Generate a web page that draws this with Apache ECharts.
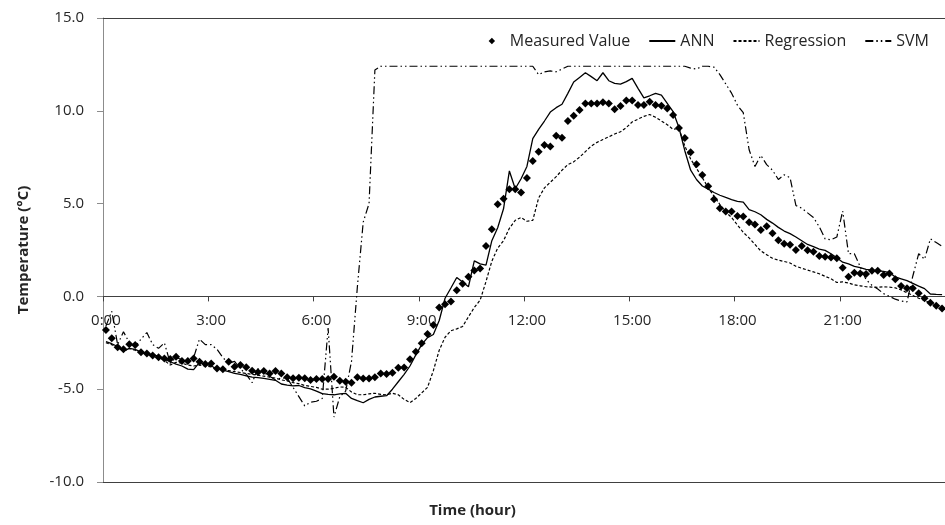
<!DOCTYPE html>
<html>
<head>
<meta charset="utf-8">
<script src="https://cdn.jsdelivr.net/npm/echarts@6/dist/echarts.min.js"></script>
<style>
html,body{margin:0;padding:0;background:#fff;}
#chart{width:945px;height:525px;}
</style>
</head>
<body>
<div id="chart"></div>
<script>
// 10-minute time categories 0:00 .. 23:50
const timeLabels = [];
for (let h = 0; h < 24; h++) {
  for (let m = 0; m < 60; m += 10) {
    timeLabels.push(h + ':' + (m < 10 ? '0' + m : m));
  }
}
const yTicks = [-10, -5, 0, 5, 10, 15];

const measured = [
  -1.81,-2.26,-2.74,-2.85,-2.58,-2.62,-3.01,-3.07,-3.19,-3.28,
  -3.34,-3.37,-3.25,-3.48,-3.48,-3.34,-3.52,-3.64,-3.61,-3.88,
  -3.93,-3.52,-3.79,-3.70,-3.82,-4.00,-4.09,-4.02,-4.15,-4.02,
  -4.15,-4.36,-4.41,-4.38,-4.41,-4.50,-4.45,-4.45,-4.45,-4.33,
  -4.54,-4.60,-4.65,-4.36,-4.43,-4.43,-4.36,-4.15,-4.18,-4.11,
  -3.84,-3.83,-3.39,-2.98,-2.53,-2.03,-1.54,-0.60,-0.42,-0.28,
  0.33,0.68,1.06,1.40,1.50,2.72,3.62,4.96,5.26,5.77,
  5.77,5.60,6.38,7.30,7.80,8.16,8.07,8.66,8.55,9.45,
  9.74,10.04,10.40,10.40,10.40,10.46,10.40,10.08,10.26,10.55,
  10.56,10.31,10.31,10.49,10.31,10.27,10.13,9.77,9.08,8.54,
  7.76,7.12,6.54,5.93,5.23,4.75,4.57,4.57,4.33,4.30,
  3.99,3.88,3.58,3.78,3.40,3.02,2.84,2.78,2.50,2.72,
  2.48,2.41,2.18,2.14,2.09,2.05,1.55,1.06,1.28,1.24,
  1.21,1.38,1.38,1.15,1.24,0.92,0.56,0.44,0.44,0.17,
  -0.10,-0.34,-0.50,-0.65
];

const ann = [
  -2.44,-2.55,-2.70,-2.95,-2.80,-2.85,-3.00,-3.08,-3.15,-3.22,
  -3.40,-3.52,-3.65,-3.75,-3.92,-3.95,-3.55,-3.65,-3.75,-3.90,
  -3.97,-4.05,-4.15,-4.20,-4.28,-4.35,-4.38,-4.42,-4.47,-4.52,
  -4.72,-4.78,-4.82,-4.80,-4.92,-4.98,-5.10,-5.24,-5.28,-5.30,
  -5.25,-5.22,-5.50,-5.62,-5.73,-5.55,-5.42,-5.38,-5.35,-5.00,
  -4.60,-4.20,-3.75,-3.15,-2.60,-2.22,-2.05,-1.30,-0.10,0.45,
  1.02,0.78,0.52,1.91,1.75,1.69,3.00,3.70,4.72,6.76,
  5.80,6.34,7.00,8.50,9.00,9.45,9.93,10.17,10.35,10.94,
  11.55,11.80,12.05,11.84,11.62,12.05,11.62,11.48,11.44,11.57,
  11.75,11.21,10.70,10.81,10.94,10.85,10.40,9.95,9.10,7.85,
  6.80,6.30,5.95,5.78,5.60,5.45,5.33,5.22,5.12,5.08,
  4.68,4.56,4.40,4.15,3.95,3.72,3.52,3.38,3.20,3.00,
  2.80,2.68,2.55,2.48,2.30,2.08,1.84,1.75,1.62,1.55,
  1.46,1.42,1.38,1.35,1.28,1.05,0.95,0.85,0.70,0.55,
  0.42,0.13,0.11,0.10
];

const regression = [
  -2.50,-2.60,-2.75,-2.95,-2.80,-2.90,-3.05,-3.10,-3.20,-3.30,
  -3.45,-3.70,-3.55,-3.60,-3.70,-3.75,-3.70,-3.75,-3.80,-3.90,
  -3.95,-4.00,-4.05,-4.10,-4.15,-4.20,-4.25,-4.30,-4.35,-4.40,
  -4.50,-4.55,-4.65,-4.70,-4.80,-4.85,-4.90,-5.00,-5.00,-4.95,
  -4.88,-4.90,-5.15,-5.30,-5.30,-5.25,-5.22,-5.28,-5.30,-5.22,
  -5.30,-5.55,-5.72,-5.50,-5.20,-4.90,-4.00,-2.90,-2.20,-1.85,
  -1.75,-1.62,-1.10,-0.60,-0.20,0.80,1.90,2.60,3.00,3.67,
  4.10,4.25,4.05,4.10,5.30,5.85,6.15,6.45,6.80,7.10,
  7.25,7.50,7.80,8.10,8.30,8.45,8.60,8.75,8.87,9.10,
  9.40,9.55,9.70,9.80,9.65,9.45,9.25,9.00,9.05,8.10,
  7.40,6.90,6.40,5.85,5.40,4.95,4.55,4.25,3.85,3.45,
  3.15,2.80,2.45,2.25,2.05,1.95,1.88,1.80,1.62,1.52,
  1.42,1.32,1.22,1.08,0.95,0.75,0.78,0.72,0.62,0.57,
  0.52,0.50,0.49,0.52,0.50,0.46,0.35,0.20,0.05,-0.10,
  -0.22,-0.36,-0.45,-0.55
];

const svm = [
  -1.60,-0.80,-2.60,-1.90,-2.50,-2.70,-2.30,-1.95,-2.60,-2.80,
  -2.50,-3.60,-3.30,-3.40,-3.50,-3.30,-2.30,-2.60,-2.60,-2.85,
  -3.30,-3.60,-3.50,-3.90,-4.20,-4.65,-3.90,-4.10,-4.30,-4.50,
  -4.40,-4.40,-4.90,-5.40,-5.90,-5.70,-5.65,-5.50,-1.70,-6.50,
  -5.40,-5.10,-3.50,0.50,4.00,5.00,12.20,12.40,12.40,12.40,
  12.40,12.40,12.40,12.40,12.40,12.40,12.40,12.40,12.40,12.40,
  12.40,12.40,12.40,12.40,12.40,12.40,12.40,12.40,12.40,12.40,
  12.40,12.40,12.40,12.40,11.95,12.10,12.15,12.10,12.25,12.40,
  12.40,12.40,12.40,12.40,12.40,12.40,12.40,12.40,12.40,12.40,
  12.40,12.40,12.40,12.40,12.40,12.40,12.40,12.40,12.40,12.40,
  12.30,12.25,12.40,12.40,12.35,11.95,11.45,10.95,10.30,9.90,
  7.90,7.00,7.60,7.10,6.80,6.30,6.55,6.40,4.90,4.75,
  4.50,4.25,3.75,3.10,3.05,3.20,4.60,2.30,2.30,1.60,
  0.90,0.60,0.40,0.15,0.00,-0.15,-0.25,-0.30,1.10,2.30,
  2.00,3.10,2.90,2.70
];

const FONT = 'Open Sans';
const GRID_TOP = 18, GRID_H = 464;
const yMin = yTicks[0], yMax = yTicks[yTicks.length - 1];
// move the category axis so it sits on the zero line
const zeroOffset = -GRID_H * (0 - yMin) / (yMax - yMin);

const hiddenDot = {color: 'rgba(0,0,0,0)', borderWidth: 0};

const chart = echarts.init(document.getElementById('chart'), null, {renderer: 'canvas'});
chart.setOption({
  animation: false,
  backgroundColor: '#ffffff',
  textStyle: {fontFamily: FONT},
  grid: {left: 103, top: GRID_TOP, width: 853, height: GRID_H, containLabel: false},
  legend: {
    right: 11, top: 28,
    itemWidth: 26, itemHeight: 8, itemGap: 18,
    textStyle: {fontFamily: FONT, fontSize: 16, color: '#262626'},
    data: [
      {name: 'Measured Value'},
      {name: 'ANN', itemStyle: hiddenDot},
      {name: 'Regression', itemStyle: hiddenDot},
      {name: 'SVM', itemStyle: hiddenDot}
    ]
  },
  graphic: [{
    type: 'text', left: 'center', top: 503,
    style: {text: 'Time (hour)', font: 'bold 15px "' + FONT + '"', fill: '#262626'}
  }],
  xAxis: {
    type: 'category',
    data: timeLabels,
    boundaryGap: true,
    position: 'bottom',
    offset: zeroOffset,
    axisLine: {onZero: false, lineStyle: {color: '#404040', width: 1}},
    axisTick: {show: true, interval: 17, length: 5, lineStyle: {color: '#404040'}},
    axisLabel: {interval: 17, margin: 17, fontSize: 15, color: '#262626', fontFamily: FONT},
    splitLine: {show: false}
  },
  yAxis: {
    type: 'value',
    min: yMin, max: yMax, interval: 5,
    name: 'Temperature (°C)',
    nameLocation: 'middle', nameGap: 72,
    nameTextStyle: {fontFamily: FONT, fontSize: 15, fontWeight: 'bold', color: '#262626'},
    axisLine: {show: true, lineStyle: {color: '#8c8c8c'}},
    axisTick: {show: true, length: 6, lineStyle: {color: '#8c8c8c'}},
    axisLabel: {formatter: v => v.toFixed(1), fontSize: 15, color: '#262626', margin: 19, fontFamily: FONT},
    splitLine: {show: false}
  },
  series: [
    {
      name: 'Measured Value', type: 'line', data: measured,
      symbol: 'diamond', symbolSize: 8, showSymbol: true, showAllSymbol: true,
      itemStyle: {color: '#000'},
      lineStyle: {width: 0, opacity: 0},
      z: 5,
      markLine: {
        silent: true, symbol: 'none', label: {show: false},
        lineStyle: {color: '#404040', type: 'solid', width: 1},
        data: [{yAxis: yMax}, {yAxis: yMin}]
      }
    },
    {
      name: 'ANN', type: 'line', data: ann, symbol: 'none',
      itemStyle: {color: '#000'},
      lineStyle: {color: '#000', width: 1.3, type: 'solid'}
    },
    {
      name: 'Regression', type: 'line', data: regression, symbol: 'none',
      itemStyle: {color: '#000'},
      lineStyle: {color: '#000', width: 1.2, type: [3, 2]}
    },
    {
      name: 'SVM', type: 'line', data: svm, symbol: 'none',
      itemStyle: {color: '#000'},
      lineStyle: {color: '#000', width: 1.2, type: [8, 3, 1.5, 3, 1.5, 3]}
    }
  ]
});
</script>
</body>
</html>
